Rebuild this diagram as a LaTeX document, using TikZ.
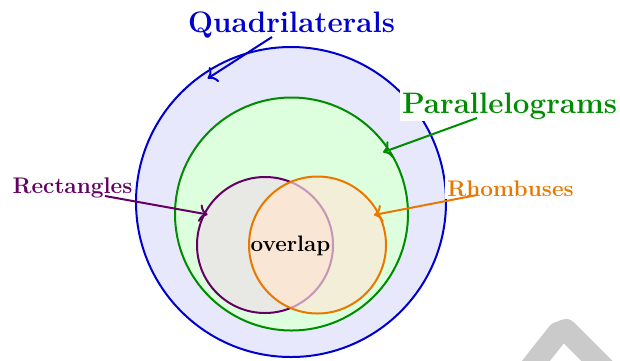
\documentclass[tikz,border=0pt]{standalone}
\usetikzlibrary{calc,arrows.meta}
\definecolor{qblue}{RGB}{0,0,205}
\definecolor{qbluefill}{RGB}{231,232,252}
\definecolor{pgreen}{RGB}{0,140,0}
\definecolor{pgreenfill}{RGB}{221,255,221}
\definecolor{rpurple}{RGB}{100,0,100}
\definecolor{rfill}{RGB}{232,233,229}
\definecolor{rfaded}{RGB}{196,150,186}
\definecolor{horange}{RGB}{232,120,0}
\definecolor{hfill}{RGB}{243,238,215}
\definecolor{ovfill}{RGB}{249,230,212}
\definecolor{wmark}{RGB}{202,202,202}
\tikzset{
  setc/.style={circle,inner sep=0pt,outer sep=0pt,line width=2pt},
  lab/.style={fill=white,inner sep=2.5pt,anchor=base,font=\bfseries},
  big/.style={lab,font=\fontsize{29.6}{32}\selectfont\bfseries},
  mid/.style={lab,font=\fontsize{22.6}{24}\selectfont\bfseries},
  arr/.style={-{To[scale=1.4]},line width=2pt}
}
\begin{document}
\begin{tikzpicture}[x=1pt,y=-1pt]
\useasboundingbox (0,0) rectangle (620,360);
% watermark fragment
\draw[wmark,line width=22pt,line cap=round,line join=round] (524,376) -- (558,333) -- (566,330) -- (614,378);
% circles
\node[setc,draw=qblue,fill=qbluefill,minimum size=310pt] (Qc) at (291,202) {};
\node[setc,draw=pgreen,fill=pgreenfill,minimum size=233pt] (Pc) at (291.5,214) {};
\node[setc,draw=rpurple,fill=rfill,minimum size=136pt] (Rc) at (265,245) {};
\node[setc,fill=hfill,minimum size=137pt] (Hc) at (317.5,245) {};
\begin{scope}
  \clip (317.5,245) circle (68.5pt);
  \fill[ovfill] (265,245) circle (68pt);
  \draw[rfaded,line width=2pt] (265,245) circle (68pt);
\end{scope}
\draw[horange,line width=2pt] (Hc) circle (68.5pt);
\node[anchor=base,font=\fontsize{22.4}{24}\selectfont\bfseries,inner sep=0pt] (ov) at (290.5,251) {overlap};
% labels
\node[big,text=qblue,fill=none] (Ql) at (291.5,32) {Quadrilaterals};
\node[big,text=pgreen] (Pl) at (509.5,113) {Parallelograms};
\node[mid,text=rpurple] (Rl) at (72.5,193) {Rectangles};
\node[mid,text=horange] (Hl) at (510.5,196) {Rhombuses};
% arrows
\draw[arr,qblue] ([shift={(-19.5,5)}]Ql.base) -- ($(Qc.center)!149pt!(Qc.124.3)$);
\draw[arr,pgreen] ([shift={(-32.5,5)}]Pl.base) -- ($(Pc.center)!110.5pt!(Pc.34.1)$);
\draw[arr,rpurple] ([shift={(32.5,3)}]Rl.base) -- ($(Rc.center)!65pt!(Rc.152.6)$);
\draw[arr,horange] ([shift={(-33.5,-1)}]Hl.base) -- ($(Hc.center)!64pt!(Hc.28)$);
\end{tikzpicture}
\end{document}
